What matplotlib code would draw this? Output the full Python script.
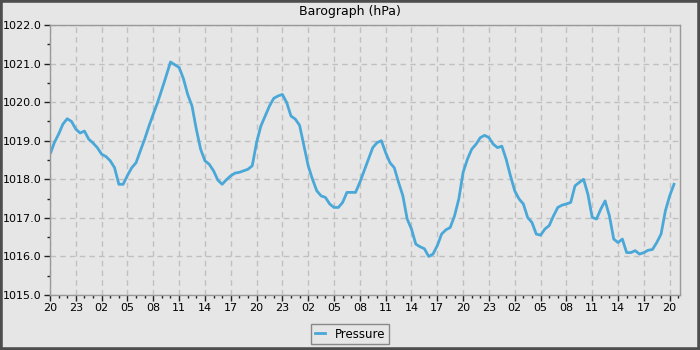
import matplotlib
matplotlib.use("Agg")
import matplotlib.pyplot as plt
from matplotlib.patches import Rectangle
from matplotlib.ticker import MultipleLocator

# hours since 20:00 on the first day, every half hour
hours = [0.1, 0.5, 1, 1.5, 2, 2.5, 3, 3.5, 4, 4.5, 5, 5.5, 6, 6.5, 7, 7.5, 8, 8.5, 9, 9.5,
         10, 10.5, 11, 11.5, 12, 12.5, 13, 13.5, 14, 14.5, 15, 15.5, 16, 16.5, 17, 17.5, 18, 18.5,
         19, 19.5, 20, 20.5, 21, 21.5, 22, 22.5, 23, 23.5, 24, 24.5, 25, 25.5, 26, 26.5, 27, 27.5,
         28, 28.5, 29, 29.5, 30, 30.5, 31, 31.5, 32, 32.5, 33, 33.5, 34, 34.5, 35, 35.5, 36, 36.5,
         37, 37.5, 38, 38.5, 39, 39.5, 40, 40.5, 41, 41.5, 42, 42.5, 43, 43.5, 44, 44.5, 45, 45.5,
         46, 46.5, 47, 47.5, 48, 48.5, 49, 49.5, 50, 50.5, 51, 51.5, 52, 52.5, 53, 53.5, 54, 54.5,
         55, 55.5, 56, 56.5, 57, 57.5, 58, 58.5, 59, 59.5, 60, 60.5, 61, 61.5, 62, 62.5, 63, 63.5,
         64, 64.5, 65, 65.5, 66, 66.5, 67, 67.5, 68, 68.5, 69, 69.5, 70, 70.5, 71, 71.5, 72, 72.5]
pressure = [1018.7, 1018.95, 1019.17, 1019.43, 1019.57, 1019.5, 1019.3, 1019.2, 1019.25, 1019.04,
            1018.94, 1018.82, 1018.65, 1018.59, 1018.48, 1018.3, 1017.87, 1017.87, 1018.1, 1018.3,
            1018.43, 1018.74, 1019.04, 1019.38, 1019.69, 1019.99, 1020.33, 1020.68, 1021.04, 1020.97,
            1020.9, 1020.61, 1020.2, 1019.9, 1019.3, 1018.78, 1018.48, 1018.39, 1018.22, 1017.98,
            1017.87, 1017.99, 1018.09, 1018.16, 1018.18, 1018.22, 1018.26, 1018.35, 1018.95, 1019.38,
            1019.64, 1019.9, 1020.1, 1020.16, 1020.2, 1019.99, 1019.64, 1019.56, 1019.4, 1018.87,
            1018.35, 1018.0, 1017.7, 1017.57, 1017.53, 1017.36, 1017.27, 1017.27, 1017.4, 1017.66,
            1017.66, 1017.66, 1017.92, 1018.22, 1018.52, 1018.82, 1018.95, 1019.0, 1018.69, 1018.43,
            1018.3, 1017.92, 1017.57, 1016.97, 1016.71, 1016.32, 1016.25, 1016.2, 1016.0, 1016.06,
            1016.28, 1016.58, 1016.69, 1016.75, 1017.05, 1017.49, 1018.18, 1018.52, 1018.78, 1018.91,
            1019.08, 1019.14, 1019.08, 1018.91, 1018.82, 1018.86, 1018.52, 1018.09, 1017.7, 1017.49,
            1017.36, 1017.01, 1016.88, 1016.58, 1016.55, 1016.71, 1016.8, 1017.05, 1017.27, 1017.33,
            1017.36, 1017.4, 1017.83, 1017.92, 1018.0, 1017.61, 1017.01, 1016.97, 1017.23, 1017.44,
            1017.05, 1016.45, 1016.36, 1016.45, 1016.1, 1016.1, 1016.15, 1016.06, 1016.1, 1016.16,
            1016.18, 1016.36, 1016.58, 1017.18, 1017.57, 1017.87]

tick_pos = list(range(0, 73, 3))
tick_labels = ["20", "23", "02", "05", "08", "11", "14", "17",
               "20", "23", "02", "05", "08", "11", "14", "17",
               "20", "23", "02", "05", "08", "11", "14", "17", "20"]

bg = "#e6e6e6"
fig = plt.figure(figsize=(7, 3.5), dpi=100, facecolor=bg)
ax = fig.add_axes([50 / 700, 55 / 350, 630 / 700, 270 / 350], facecolor=bg)

ax.plot(hours, pressure, color="#4aa8d8", linewidth=2.0, label="Pressure")

ax.set_xlim(0, 73.2)
ax.set_ylim(1015, 1022)
ax.set_xticks(tick_pos)
ax.set_xticklabels(tick_labels)
ax.xaxis.set_minor_locator(MultipleLocator(1))
ax.yaxis.set_major_locator(MultipleLocator(1))
ax.yaxis.set_minor_locator(MultipleLocator(0.5))
ax.yaxis.set_major_formatter(lambda v, p: f"{v:.1f}")

ax.grid(True, which="major", color="#c0c0c0", linestyle=(0, (4, 3)), linewidth=1)
ax.tick_params(which="major", direction="out", length=4, width=1, color="#222222",
               labelsize=8, pad=2)
ax.tick_params(which="minor", direction="out", length=2.5, width=1, color="#222222")
for s in ax.spines.values():
    s.set_color("#999999")
    s.set_linewidth(1)

fig.text(0.5, 1 - 12 / 350, "Barograph (hPa)", ha="center", va="center", fontsize=9)

fig.legend(loc="lower center", bbox_to_anchor=(0.5, 0.0), fontsize=8.5, frameon=True,
           fancybox=False, edgecolor="#888888", facecolor=bg, framealpha=1,
           handlelength=0.9, borderpad=0.3)

fig.add_artist(Rectangle((0, 0), 1, 1, transform=fig.transFigure, fill=False,
                         edgecolor="#4d4d4d", linewidth=4))

fig.savefig("out.png", dpi=100, facecolor=bg)
